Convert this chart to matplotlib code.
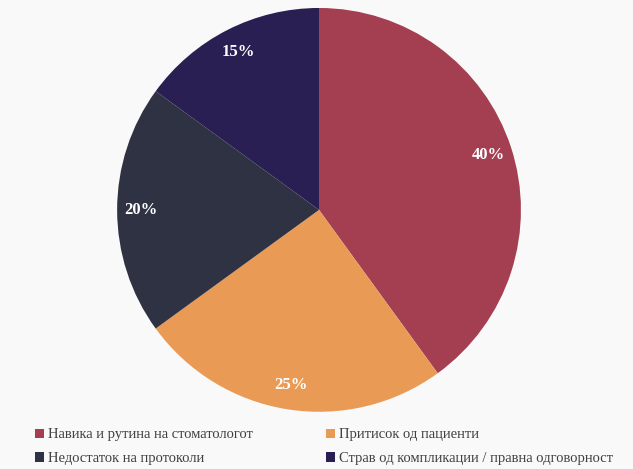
import matplotlib.pyplot as plt
from matplotlib.patches import Patch

plt.rcParams['font.family'] = ['Liberation Serif', 'DejaVu Serif']

labels = ['Навика и рутина на стоматологот', 'Притисок од пациенти',
          'Недостаток на протоколи', 'Страв од компликации / правна одговорност']
values = [40, 25, 20, 15]
colors = ['#A43F52', '#E99A55', '#2F3242', '#2A1F52']

fig = plt.figure(figsize=(6.33, 4.69), dpi=100)
fig.patch.set_facecolor('#f9f9f9')
ax = fig.add_axes([0.185, 0.122, 0.638, 0.861])

wedges, texts, autotexts = ax.pie(values, colors=colors, startangle=90, counterclock=False,
                                  autopct='%d%%', pctdistance=0.88,
                                  wedgeprops=dict(linewidth=0))
for t in autotexts:
    t.set_color('white')
    t.set_fontsize(12)
    t.set_fontweight('bold')
ax.set_xlim(-1, 1)
ax.set_ylim(-1, 1)
ax.set_aspect('equal')

# legend is filled row by row in the reference
order = [0, 2, 1, 3]
handles = [Patch(facecolor=colors[i], label=labels[i]) for i in order]
fig.legend(handles=handles, ncol=2, loc='lower left', bbox_to_anchor=(0.035, -0.02),
           frameon=False, fontsize=10.5, handlelength=0.6, handleheight=0.6,
           handletextpad=0.3, columnspacing=5.0, labelspacing=0.75,
           labelcolor='#404040')

fig.savefig('out.png', dpi=100, facecolor=fig.get_facecolor())
